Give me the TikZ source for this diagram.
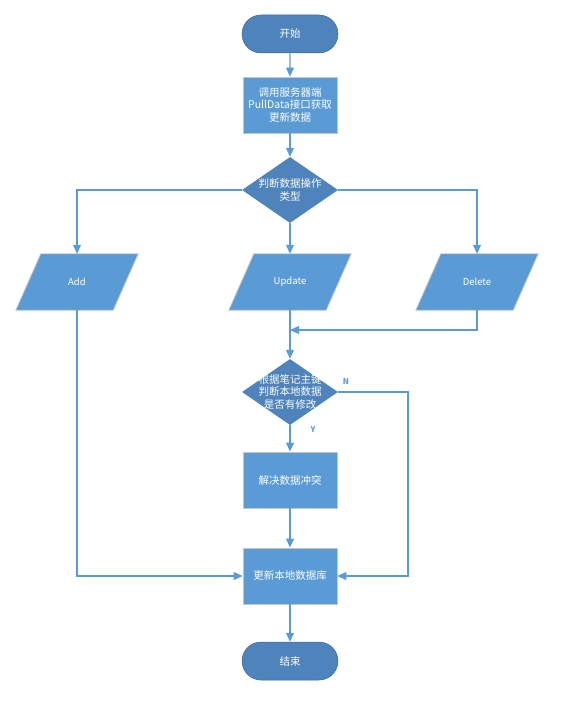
\documentclass[tikz,border=0pt]{standalone}
\usepackage{fontspec}
\newfontfamily\cjk{Noto Sans CJK SC}
\usetikzlibrary{shapes.geometric,shapes.misc,arrows.meta,backgrounds}
\definecolor{boxblue}{HTML}{5B9BD5}
\definecolor{darkblue}{HTML}{4E83BC}
\definecolor{edgegray}{HTML}{C6C6C6}
\tikzset{
  flowtext/.style={text=white, font=\cjk\fontsize{10.5}{12.5}\selectfont, align=center},
  terminal/.style={rounded rectangle, fill=darkblue, draw=darkblue!80!black, line width=0.5pt,
    minimum width=96pt, minimum height=38pt, inner sep=0pt, flowtext},
  process/.style={rectangle, fill=boxblue, draw=edgegray, line width=0.8pt,
    minimum width=94pt, minimum height=56pt, inner sep=0pt, flowtext},
  decision/.style={diamond, fill=darkblue, draw=none, minimum width=96pt, minimum height=66pt,
    inner sep=0pt},
  iobox/.style={rectangle, minimum width=97pt, minimum height=56pt, inner sep=0pt,
    flowtext, font=\cjk\fontsize{9.5}{12}\selectfont},
  iofill/.style={fill=boxblue, draw=edgegray, line width=0.8pt},
  flow/.style={draw=boxblue, line width=1.1pt, -{Triangle[length=9pt,width=8pt]}},
  yn/.style={text=boxblue, font=\cjk\bfseries\fontsize{8}{10}\selectfont}
}
\begin{document}
\begin{tikzpicture}[x=1pt,y=1pt,yscale=-1,xscale=1]
\useasboundingbox (0,0) rectangle (582,703);

% Nodes
\node [terminal] (start) at (290,34) {开始};
\node [process] (pull) at (290,105) {调用服务器端\\PullData接口获取\\更新数据};
\node [decision] (kind) at (290,190) {};
\node [flowtext] at (kind) {判断数据操作\\类型};
\node [iobox] (add) at (77,282) {Add};
\node [iobox] (upd) at (290,282) {Update};
\node [iobox] (del) at (477,282) {Delete};
\coordinate (merge) at (290,330);
\node [decision] (check) at (290,392) {};
\node [flowtext] at (check) {根据笔记主键\\判断本地数据\\是否有修改};
\node [process] (resolve) at (290,480) {解决数据冲突};
\node [process] (save) at (290,576) {更新本地数据库};
\node [terminal] (stop) at (290,661) {结束};
\coordinate (nright) at (408,576);

% Parallelograms behind the io nodes
\begin{scope}[on background layer]
\foreach \io in {add,upd,del}
  \draw [iofill] ([xshift=-12.5pt]\io.south west) -- ([xshift=-12.5pt]\io.south east)
    -- ([xshift=12.5pt]\io.north east) -- ([xshift=12.5pt]\io.north west) -- cycle;
\end{scope}

% Connectors
\draw [flow] (start) -- (pull);
\draw [flow] (pull) -- (kind);
\draw [flow] (kind.west) -| (add.north);
\draw [flow] (kind) -- (upd);
\draw [flow] (kind.east) -| (del.north);
\draw [flow] (del.south) |- (merge);
\draw [flow] (upd) -- (check);
\draw [flow] (check) -- (resolve);
\draw [flow] (check.east) -| (nright) -- (save.east);
\draw [flow] (resolve) -- (save);
\draw [flow] (add.south) |- (save.west);
\draw [flow] (save) -- (stop);

% Text Node
\node [yn] (nlabel) at (346,382) {N};
% Text Node
\node [yn] (ylabel) at (313,430) {Y};
\end{tikzpicture}
\end{document}
